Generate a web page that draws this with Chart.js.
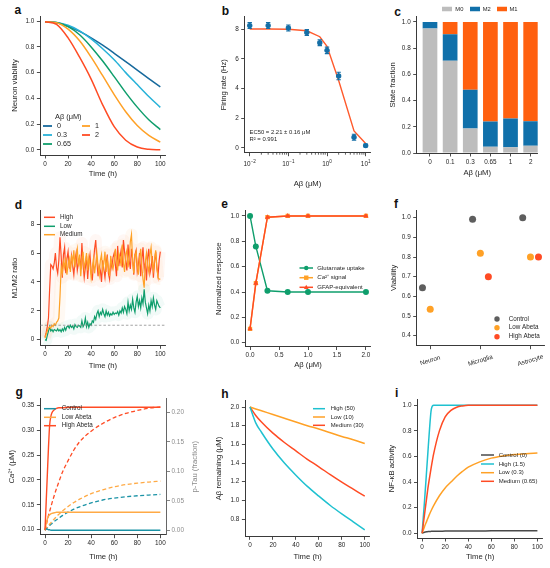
<!DOCTYPE html>
<html>
<head>
<meta charset="utf-8">
<title>Abeta model panels</title>
<script src="https://cdn.jsdelivr.net/npm/chart.js@4.4.1/dist/chart.umd.min.js"></script>
<style>
  html, body { margin: 0; padding: 0; background: #fff; }
  body { width: 550px; height: 568px; position: relative; overflow: hidden; font-family: 'Liberation Sans', Arial, sans-serif; }
  canvas { position: absolute; }
  .tag { position: absolute; font-weight: bold; font-size: 12px; line-height: 12px; color: #111; }
</style>
</head>
<body>
<div class="tag" style="left:14.5px;top:4px">a</div>
<div class="tag" style="left:221.8px;top:5px">b</div>
<div class="tag" style="left:394.2px;top:5.7px">c</div>
<div class="tag" style="left:14.8px;top:199px">d</div>
<div class="tag" style="left:221.2px;top:198px">e</div>
<div class="tag" style="left:394px;top:198px">f</div>
<div class="tag" style="left:15.5px;top:385.5px">g</div>
<div class="tag" style="left:221.2px;top:388px">h</div>
<div class="tag" style="left:395px;top:387px">i</div>
<script>
// ---- a: neuron viability over time, per Abeta dose
const timeA = [0, 10, 20, 30, 40, 50, 60, 70, 80, 90, 100];
const doseLabelsA = ['0', '0.3', '0.65', '1', '2'];
const viab0   = [0.995, 0.988, 0.960, 0.920, 0.870, 0.813, 0.750, 0.685, 0.620, 0.554, 0.490];
const viab03  = [0.995, 0.990, 0.968, 0.925, 0.862, 0.786, 0.700, 0.600, 0.507, 0.415, 0.330];
const viab065 = [0.995, 0.990, 0.957, 0.894, 0.800, 0.690, 0.569, 0.445, 0.332, 0.234, 0.157];
const viab1   = [0.995, 0.987, 0.938, 0.847, 0.720, 0.576, 0.429, 0.296, 0.189, 0.112, 0.060];
const viab2   = [0.995, 0.975, 0.870, 0.720, 0.550, 0.350, 0.180, 0.075, 0.022, 0.004, 0.000];

// ---- b: firing rate dose response
const dosesB = [0.01, 0.03, 0.1, 0.3, 0.65, 1, 2, 5, 10];
const firingMean = [8.25, 8.25, 8.09, 7.78, 7.10, 6.58, 4.85, 0.72, 0.16];
const firingErr  = [0.20, 0.20, 0.20, 0.20, 0.20, 0.22, 0.25, 0.20, 0.10];
const firingFit  = [8.02, 8.02, 8.00, 7.90, 7.50, 6.85, 4.55, 1.15, 0.30];
const logTicksB = [0.01, 0.1, 1, 10];
const logBaseB = '10';
const logExpB = ['\u22122', '\u22121', '0', '1'];
const fitNotes = ['EC50 = 2.21 \u00B1 0.16 \u03BCM', 'R\u00B2 = 0.991'];

// ---- c: microglia state fractions
const doseCatsC = ['0', '0.1', '0.3', '0.65', '1', '2'];
const stateNames = ['M0', 'M2', 'M1'];
const fracM0 = [0.950, 0.704, 0.186, 0.048, 0.043, 0.056];
const fracM2 = [0.050, 0.202, 0.296, 0.192, 0.220, 0.186];
const fracM1 = [0.000, 0.094, 0.518, 0.760, 0.737, 0.758];

// ---- d: M1/M2 ratio time courses (hourly)
const ratioNames = ['High', 'Low', 'Medium'];
const ratioHigh = [0.2,0.5,0.9,1.5,3.5,5.2,5.1,4.9,5.3,6.0,5.0,4.6,5.5,7.1,5.8,4.3,5.9,6.4,4.6,5.6,
  6.1,5.0,4.9,5.8,5.1,4.5,5.5,6.0,4.8,5.3,5.6,4.9,6.7,5.2,4.3,5.0,5.8,4.2,5.4,5.9,
  4.7,4.1,5.3,6.3,6.9,5.4,4.4,5.1,4.8,4.0,5.5,4.9,4.3,5.2,5.9,4.6,4.2,5.5,5.0,5.7,
  6.0,5.2,4.4,6.5,5.1,5.7,6.2,5.0,6.9,6.1,5.4,4.8,6.6,5.5,4.9,6.3,5.6,4.5,5.9,6.2,
  4.7,5.2,6.0,4.4,5.6,6.4,4.9,5.3,4.1,5.7,6.3,4.6,5.0,5.8,4.3,5.4,6.1,5.0,4.4,5.5,6.1];
const ratioLow = [0.0,-0.05,0.3,0.6,0.9,0.6,0.7,0.55,0.7,0.65,0.6,0.75,0.6,0.7,0.55,0.75,0.6,0.85,0.65,0.9,
  0.95,0.8,1.0,0.85,0.95,0.75,1.05,0.9,0.85,1.0,0.95,0.85,1.3,0.9,1.05,1.5,0.9,1.2,0.85,1.1,
  1.0,1.3,1.2,1.6,1.4,1.8,2.0,1.6,1.9,1.75,2.1,1.8,1.6,2.0,1.7,1.9,1.65,1.8,1.7,1.9,
  1.75,1.85,1.8,1.95,1.7,2.0,1.85,2.2,1.9,2.3,2.1,1.8,2.6,2.0,2.4,2.1,2.8,2.2,1.9,2.6,
  3.0,2.3,2.7,2.2,2.9,2.5,3.5,2.6,2.2,1.8,2.4,2.0,2.7,2.3,2.9,2.4,2.1,2.7,2.5,2.3,2.2];
const ratioMed = [0.1,0.4,0.6,0.8,0.9,0.8,1.0,0.9,1.1,1.0,1.2,1.3,1.5,3.0,5.0,4.6,5.4,5.0,5.7,4.5,
  5.2,5.6,4.7,5.9,5.3,6.2,5.0,5.8,6.3,5.1,5.9,4.4,5.5,6.1,4.9,5.4,6.0,4.8,5.7,5.2,
  4.3,5.0,5.6,4.6,5.3,6.0,5.1,4.5,5.5,5.9,4.8,5.3,6.1,4.7,5.6,5.0,4.4,5.8,5.2,4.9,
  5.4,6.3,5.5,4.8,6.0,5.7,5.1,6.6,5.3,4.7,5.9,6.2,5.0,5.6,6.8,7.3,5.4,4.6,5.8,6.1,
  5.2,4.5,5.7,6.3,5.0,4.2,3.6,5.4,6.0,5.1,4.7,5.9,6.4,5.3,4.8,5.6,6.2,5.0,4.3,4.2,4.2];
const ratioThreshold = 1;

// ---- e: astrocyte responses
const dosesE = [0, 0.1, 0.3, 0.65, 1, 2];
const glutUptake = [1.00, 0.76, 0.41, 0.40, 0.40, 0.40];
const caSignal   = [0.11, 0.47, 0.99, 1.00, 1.00, 1.00];
const gfapEquiv  = [0.11, 0.47, 0.99, 1.00, 1.00, 1.00];

// ---- f: viability by cell type
const cellTypes = ['Neuron', 'Microglia', 'Astrocyte'];
const condNames = ['Control', 'Low Abeta', 'High Abeta'];
const viabControl = [0.644, 0.992, 1.000];
const viabLow     = [0.534, 0.819, 0.800];
const viabHigh    = [null, 0.700, 0.800];

// ---- g: calcium (solid, left) and p-Tau (dashed, right)
const timeG = [0, 1, 2, 3, 4, 5, 6, 8, 10, 12, 15, 20, 25, 30, 40, 50, 60, 70, 80, 90, 100];
const caControl = [0.100,0.102,0.101,0.100,0.100,0.099,0.099,0.099,0.099,0.099,0.099,0.099,0.099,0.099,0.099,0.099,0.099,0.099,0.099,0.099,0.099];
const caLow     = [0.100,0.112,0.121,0.127,0.130,0.132,0.133,0.134,0.135,0.135,0.135,0.135,0.135,0.135,0.135,0.135,0.135,0.135,0.135,0.135,0.135];
const caHigh    = [0.100,0.155,0.210,0.265,0.310,0.327,0.335,0.341,0.344,0.345,0.345,0.346,0.346,0.346,0.346,0.346,0.346,0.346,0.346,0.346,0.346];
const tauControl = [0,0.0021,0.0041,0.0060,0.0079,0.0097,0.0114,0.0148,0.0179,0.0207,0.0248,0.0307,0.0357,0.0398,0.0464,0.0513,0.0545,0.0568,0.0585,0.0597,0.0607];
const tauLow     = [0,0.0027,0.0053,0.0078,0.0102,0.0126,0.0149,0.0192,0.0233,0.0271,0.0325,0.0404,0.0471,0.0527,0.0621,0.0685,0.0737,0.0774,0.0799,0.0817,0.0832];
const tauHigh    = [0,0.008,0.017,0.025,0.032,0.039,0.046,0.059,0.071,0.082,0.098,0.118,0.136,0.150,0.168,0.181,0.191,0.198,0.203,0.207,0.209];

// ---- h: Abeta clearance
const timeH = [0, 5, 10, 20, 30, 40, 50, 60, 70, 80, 90, 100];
const clearNames = ['High (50)', 'Low (10)', 'Medium (30)'];
const abHigh = [2.00, 1.83, 1.73, 1.55, 1.40, 1.27, 1.15, 1.045, 0.945, 0.855, 0.770, 0.685];
const abLow  = [2.00, 1.98, 1.96, 1.92, 1.88, 1.84, 1.80, 1.765, 1.725, 1.685, 1.650, 1.610];
const abMed  = [2.00, 1.91, 1.84, 1.72, 1.62, 1.53, 1.44, 1.360, 1.275, 1.195, 1.120, 1.045];

// ---- i: NF-kB activity
const timeI = [0, 2, 4, 5, 6, 8, 10, 15, 20, 25, 30, 35, 40, 50, 60, 70, 80, 90, 100];
const nfNames = ['Control (0)', 'High (1.5)', 'Low (0.3)', 'Medium (0.65)'];
const nfControl = [0,0.008,0.012,0.013,0.014,0.015,0.016,0.016,0.017,0.017,0.017,0.018,0.018,0.018,0.019,0.019,0.019,0.020,0.020];
const nfHigh    = [0,0.24,0.50,0.63,0.76,0.97,1.0,1.0,1.0,1.0,1.0,1.0,1.0,1.0,1.0,1.0,1.0,1.0,1.0];
const nfLow     = [0,0.05,0.095,0.118,0.14,0.18,0.216,0.293,0.354,0.40,0.445,0.483,0.516,0.558,0.587,0.604,0.615,0.622,0.627];
const nfMed     = [0,0.14,0.28,0.35,0.41,0.52,0.62,0.80,0.91,0.96,0.985,0.995,1.0,1.0,1.0,1.0,1.0,1.0,1.0];

// ---------------------------------------------------------------
const FAM = "'Liberation Sans', Arial, Helvetica, sans-serif";
const INK = '#262626';
const AXIS_COL = '#3a3a3a';
const TICK_SIZE = 6.4, TITLE_SIZE = 7.7, LEG_SIZE = 6.3;
const TITLE_HALF = TITLE_SIZE * 1.2 / 2;
const RED = '#ff4b24', ORANGE = '#ffa126', GREEN = '#0f9e6c', CYAN = '#1fc1d0';
Chart.defaults.font.family = FAM;

function xy(xs, ys) {
  return xs.map((x, i) => ({ x: x, y: ys[i] })).filter(p => p.y !== null);
}

function axis(pos, min, max, ticks, fmt, title) {
  const horiz = pos === 'bottom';
  return {
    type: 'linear', position: pos, min: min, max: max, offset: false,
    afterBuildTicks: s => { s.ticks = ticks.map(v => ({ value: v })); },
    grid: { drawOnChartArea: false, drawTicks: true, tickLength: 3.5, color: AXIS_COL, lineWidth: 0.9, offset: false },
    border: { display: true, color: AXIS_COL, width: 1 },
    ticks: { color: INK, font: { family: FAM, size: TICK_SIZE }, padding: horiz ? 1.5 : 2.5,
      maxRotation: 0, minRotation: 0, autoSkip: false, callback: v => fmt(v) },
    title: { display: !!title, text: title || '', color: INK, font: { family: FAM, size: TITLE_SIZE }, padding: 0 }
  };
}

function marker(ctx, style, x, y, r, color) {
  ctx.fillStyle = color;
  ctx.beginPath();
  if (style === 'rect') ctx.rect(x - r, y - r, 2 * r, 2 * r);
  else if (style === 'triangle') { ctx.moveTo(x, y - r * 1.2); ctx.lineTo(x + r * 1.05, y + r * 0.75); ctx.lineTo(x - r * 1.05, y + r * 0.75); ctx.closePath(); }
  else ctx.arc(x, y, r, 0, Math.PI * 2);
  ctx.fill();
}

function drawParts(ctx, parts, x, y, size, color, align) {
  const fonts = parts.map(p => (p.i ? 'italic ' : '') + (p.s || size) + 'px ' + FAM);
  const widths = parts.map((p, k) => { ctx.font = fonts[k]; return ctx.measureText(p.t).width; });
  const total = widths.reduce((a, b) => a + b, 0);
  let cx = align === 'center' ? x - total / 2 : x;
  ctx.fillStyle = color; ctx.textBaseline = 'middle'; ctx.textAlign = 'left';
  parts.forEach((p, k) => { ctx.font = fonts[k]; ctx.fillText(p.t, cx, y + (p.dy || 0)); cx += widths[k]; });
}

function drawLegend(ctx, entries, size) {
  entries.forEach(e => {
    ctx.save();
    if (e.box) {
      ctx.fillStyle = e.color;
      ctx.fillRect(e.x0, e.y - e.box / 2, e.x1 - e.x0, e.box);
    } else {
      if (!e.noLine) {
        ctx.strokeStyle = e.color; ctx.lineWidth = e.lw || 1.5;
        ctx.beginPath(); ctx.moveTo(e.x0, e.y); ctx.lineTo(e.x1, e.y); ctx.stroke();
      }
      if (e.marker) marker(ctx, e.marker, (e.x0 + e.x1) / 2, e.y, e.r || 2.5, e.color);
    }
    drawParts(ctx, e.parts || [{ t: e.label }], e.tx, e.y, size, INK, 'left');
    ctx.restore();
  });
}

function makeChart(geo, cfg) {
  const A = geo.area;
  const cl = Math.round(geo.yTitleX - TITLE_HALF);
  const cb = Math.round(geo.xTitleY + TITLE_HALF);
  const ct = geo.top, cr = geo.right;
  const cv = document.createElement('canvas');
  cv.width = cr - cl; cv.height = cb - ct;
  cv.style.left = cl + 'px'; cv.style.top = ct + 'px';
  cv.style.width = (cr - cl) + 'px'; cv.style.height = (cb - ct) + 'px';
  document.body.appendChild(cv);
  const sc = cfg.options.scales;
  sc.x.afterFit = s => { s.height = cb - A.b; };
  sc.y.afterFit = s => { s.width = A.l - cl; };
  let padR = cr - A.r;
  if (sc.y2) { sc.y2.afterFit = s => { s.width = geo.y2w; }; padR -= geo.y2w; }
  cfg.options.layout = { padding: { left: 0, top: A.t - ct, right: padR, bottom: 0 } };
  cfg.options.responsive = false;
  cfg.options.animation = false;
  cfg.options.plugins = { legend: { display: false }, tooltip: { enabled: false } };
  const off = { x: cl, y: ct };
  cfg.plugins = [{
    id: 'panelExtras',
    afterDatasetsDraw(chart) {
      if (!geo.underDraw) return;
      const ctx = chart.ctx; ctx.save(); ctx.translate(-cl, -ct); geo.underDraw(ctx, chart, off); ctx.restore();
    },
    afterDraw(chart) {
      if (!geo.draw) return;
      const ctx = chart.ctx; ctx.save(); ctx.translate(-cl, -ct); geo.draw(ctx, chart, off); ctx.restore();
    }
  }];
  return new Chart(cv, cfg);
}

const timeTicks = [0, 20, 40, 60, 80, 100];
const unitTicks = [0, 0.2, 0.4, 0.6, 0.8, 1.0];
const f1 = v => v.toFixed(1), f2 = v => v.toFixed(2), f0 = v => String(v);

// ---------------- a ----------------
const colorsA = ['#17699c', '#27b2d8', GREEN, ORANGE, RED];
const seriesA = [viab0, viab03, viab065, viab1, viab2];
makeChart({
  area: { l: 40.4, t: 16, r: 165.5, b: 155 }, yTitleX: 15, xTitleY: 174, top: 2, right: 178,
  draw(ctx) {
    drawParts(ctx, [{ t: 'A\u03B2 (\u03BCM)' }], 55, 117, 7.4, INK, 'left');
    const col = [{ x0: 43, x1: 52, tx: 57 }, { x0: 82, x1: 90, tx: 95 }];
    const rows = [126, 135, 144];
    drawLegend(ctx, doseLabelsA.map((lab, k) => {
      const c = col[k < 3 ? 0 : 1];
      return { label: lab, color: colorsA[k], x0: c.x0, x1: c.x1, tx: c.tx, y: rows[k < 3 ? k : k - 3], lw: 1.8 };
    }), 7.2);
  }
}, {
  type: 'line',
  data: { datasets: seriesA.map((arr, k) => ({
    data: xy(timeA, arr), borderColor: colorsA[k], borderWidth: 1.5, pointRadius: 0,
    cubicInterpolationMode: 'monotone', fill: false, order: 4 - k })) },
  options: { scales: {
    x: axis('bottom', -4, 104.5, timeTicks, f0, 'Time (h)'),
    y: axis('left', -0.04, 1.04, unitTicks, f1, 'Neuron viability') } }
});

// ---------------- b ----------------
const BLUE_B = '#156fa6';
const xB = axis('bottom', Math.pow(10, -2.13), Math.pow(10, 1.12), logTicksB, f0, 'A\u03B2 (\u03BCM)');
xB.type = 'logarithmic';
xB.ticks.display = false;
makeChart({
  area: { l: 244.7, t: 16.7, r: 370.3, b: 152.7 }, yTitleX: 224, xTitleY: 184.3, top: 2, right: 382,
  underDraw(ctx, chart, off) {
    const xs = chart.scales.x, ys = chart.scales.y;
    ctx.strokeStyle = BLUE_B; ctx.lineWidth = 1.1;
    dosesB.forEach((d, i) => {
      const x = xs.getPixelForValue(d) + off.x;
      const y1 = ys.getPixelForValue(firingMean[i] + firingErr[i]) + off.y;
      const y2 = ys.getPixelForValue(firingMean[i] - firingErr[i]) + off.y;
      ctx.beginPath();
      ctx.moveTo(x, y1); ctx.lineTo(x, y2);
      ctx.moveTo(x - 2.2, y1); ctx.lineTo(x + 2.2, y1);
      ctx.moveTo(x - 2.2, y2); ctx.lineTo(x + 2.2, y2);
      ctx.stroke();
    });
  },
  draw(ctx, chart, off) {
    const xs = chart.scales.x;
    const yb = chart.chartArea.bottom + off.y;
    ctx.strokeStyle = AXIS_COL; ctx.lineWidth = 0.8;
    for (let d = -2; d <= 0; d++) {
      for (let k = 2; k <= 9; k++) {
        const v = k * Math.pow(10, d);
        const x = xs.getPixelForValue(v) + off.x;
        ctx.beginPath(); ctx.moveTo(x, yb); ctx.lineTo(x, yb + 2); ctx.stroke();
      }
    }
    logTicksB.forEach((v, k) => {
      const x = xs.getPixelForValue(v) + off.x;
      drawParts(ctx, [{ t: logBaseB }, { t: logExpB[k], s: 4.6, dy: -2.6 }], x, yb + 11.5, TICK_SIZE, INK, 'center');
    });
    drawParts(ctx, [{ t: fitNotes[0] }], 249.5, 132.7, 5.9, INK, 'left');
    drawParts(ctx, [{ t: fitNotes[1] }], 249.5, 139.4, 5.9, INK, 'left');
  }
}, {
  type: 'line',
  data: { datasets: [
    { data: xy(dosesB, firingFit), borderColor: '#ff5a2c', borderWidth: 1.4, pointRadius: 0, fill: false, order: 1 },
    { data: xy(dosesB, firingMean), showLine: false, pointRadius: 2.7, pointBackgroundColor: BLUE_B, pointBorderWidth: 0, order: 0 }
  ] },
  options: { scales: {
    x: xB,
    y: axis('left', -0.32, 8.85, [0, 2, 4, 6, 8], f0, 'Firing rate (Hz)') } }
});

// ---------------- c ----------------
const colorsC = ['#bdbdbd', '#1070aa', '#ff600f'];
const fracC = [fracM0, fracM2, fracM1];
makeChart({
  area: { l: 416.7, t: 16.7, r: 537.7, b: 153 }, yTitleX: 392.7, xTitleY: 173.3, top: 2, right: 548,
  draw(ctx) {
    const pos = [{ x0: 442, x1: 452, tx: 455.3 }, { x0: 470, x1: 480, tx: 482.7 }, { x0: 497, x1: 507, tx: 509.5 }];
    drawLegend(ctx, stateNames.map((n, k) => ({ label: n, color: colorsC[k], box: 4.5, x0: pos[k].x0, x1: pos[k].x1, tx: pos[k].tx, y: 9 })), 5.8);
  }
}, {
  type: 'bar',
  data: { datasets: fracC.map((arr, k) => ({
    label: stateNames[k], data: doseCatsC.map((_, i) => ({ x: i, y: arr[i] })),
    backgroundColor: colorsC[k], borderWidth: 0, barPercentage: 0.73, categoryPercentage: 1 })) },
  options: { scales: {
    x: Object.assign(axis('bottom', -0.66, 5.35, [0, 1, 2, 3, 4, 5], v => doseCatsC[v], 'A\u03B2 (\u03BCM)'), { stacked: true }),
    y: Object.assign(axis('left', 0, 1.04, unitTicks, f1, 'State fraction'), { stacked: true }) } }
});

// ---------------- d ----------------
const timeD = ratioHigh.map((_, i) => i);
const colorsD = [RED, GREEN, ORANGE];
const bandsD = ['rgba(255,120,70,0.06)', 'rgba(30,170,130,0.06)', 'rgba(255,175,80,0.07)'];
const seriesD = [ratioHigh, ratioLow, ratioMed];
const drawOrderD = [1, 2, 0];
makeChart({
  area: { l: 40.4, t: 210.7, r: 165.5, b: 345.3 }, yTitleX: 15, xTitleY: 366, top: 196, right: 178,
  underDraw(ctx, chart, off) {
    const y = chart.scales.y.getPixelForValue(ratioThreshold) + off.y;
    ctx.strokeStyle = '#8a8a8a'; ctx.lineWidth = 0.8; ctx.setLineDash([2.5, 2]);
    ctx.beginPath(); ctx.moveTo(chart.chartArea.left + off.x, y); ctx.lineTo(chart.chartArea.right + off.x, y); ctx.stroke();
  },
  draw(ctx) {
    const rows = [217.3, 226.3, 234.7];
    drawLegend(ctx, ratioNames.map((n, k) => ({ label: n, color: colorsD[k], x0: 44, x1: 55, tx: 60, y: rows[k] })), LEG_SIZE);
  }
}, {
  type: 'line',
  data: { datasets: seriesD.map((arr, k) => ({
      data: xy(timeD, arr), borderColor: bandsD[k], borderWidth: 12, pointRadius: 0, fill: false,
      borderJoinStyle: 'round', order: 10 + k }))
    .concat(seriesD.map((arr, k) => ({
      data: xy(timeD, arr), borderColor: colorsD[k], borderWidth: 1.2, pointRadius: 0, fill: false, order: drawOrderD[k] }))) },
  options: { scales: {
    x: axis('bottom', -4, 104.5, timeTicks, f0, 'Time (h)'),
    y: axis('left', -0.39, 8.94, [0, 2, 4, 6, 8], f0, 'M1/M2 ratio') } }
});

// ---------------- e ----------------
const seriesE = [glutUptake, caSignal, gfapEquiv];
const colorsE = [GREEN, ORANGE, RED];
const markersE = ['circle', 'rect', 'triangle'];
const legendE = [[{ t: 'Glutamate uptake' }], [{ t: 'Ca', i: true }, { t: '\u00B2\u207A signal' }], [{ t: 'GFAP-equivalent' }]];
makeChart({
  area: { l: 245.4, t: 210.9, r: 370.6, b: 346.5 }, yTitleX: 219, xTitleY: 365.7, top: 196, right: 382,
  draw(ctx) {
    const rows = [268, 277.7, 287.3];
    drawLegend(ctx, legendE.map((p, k) => ({ parts: p, color: colorsE[k], marker: markersE[k], r: 2.2, x0: 299.5, x1: 313, tx: 317.3, y: rows[k] })), 6.0);
  }
}, {
  type: 'line',
  data: { datasets: seriesE.map((arr, k) => ({
    data: xy(dosesE, arr), borderColor: colorsE[k], backgroundColor: colorsE[k], borderWidth: 1.4,
    pointStyle: markersE[k], pointRadius: 3, pointBorderWidth: 0, pointBackgroundColor: colorsE[k], fill: false, order: 2 - k })) },
  options: { scales: {
    x: axis('bottom', -0.08, 2.08, [0, 0.5, 1, 1.5, 2], f1, 'A\u03B2 (\u03BCM)'),
    y: axis('left', -0.03, 1.04, unitTicks, f1, 'Normalized response') } }
});

// ---------------- f ----------------
const seriesF = [viabControl, viabLow, viabHigh];
const colorsF = ['#5e5e5e', ORANGE, RED];
const dodgeF = [-0.155, 0, 0.16];
const xF = axis('bottom', -0.27, 2.27, [0, 1, 2], f0, '');
xF.ticks.display = false;
makeChart({
  area: { l: 416.7, t: 210, r: 544, b: 345.7 }, yTitleX: 393.3, xTitleY: 367.4, top: 196, right: 549,
  draw(ctx, chart, off) {
    const xs = chart.scales.x;
    cellTypes.forEach((name, k) => {
      const x = xs.getPixelForValue(k) + off.x;
      ctx.save(); ctx.translate(x, 360.5); ctx.rotate(-17 * Math.PI / 180);
      drawParts(ctx, [{ t: name }], 0, 0, TICK_SIZE, INK, 'center');
      ctx.restore();
    });
    const rows = [319, 327.7, 336.7];
    drawLegend(ctx, condNames.map((n, k) => ({ label: n, color: colorsF[k], marker: 'circle', r: 2.7, noLine: true, x0: 497, x1: 497, tx: 508.7, y: rows[k] })), LEG_SIZE);
  }
}, {
  type: 'scatter',
  data: { datasets: seriesF.map((arr, k) => ({
    data: xy(cellTypes.map((_, i) => i + dodgeF[k]), arr),
    pointRadius: 3.5, pointBackgroundColor: colorsF[k], pointBorderWidth: 0 })) },
  options: { scales: {
    x: xF,
    y: axis('left', 0.349, 1.039, [0.4, 0.5, 0.6, 0.7, 0.8, 0.9, 1.0], f1, 'Viability') } }
});

// ---------------- g ----------------
const colorsG = ['#1b93a6', '#ffaa45', RED];
const caSeries = [caControl, caLow, caHigh];
const tauSeries = [tauControl, tauLow, tauHigh];
const yG = axis('left', 0.09, 0.3633, [0.10, 0.15, 0.20, 0.25, 0.30, 0.35], f2, '');
yG.title.display = false;
const y2G = axis('right', -0.0075, 0.223, [0, 0.05, 0.10, 0.15, 0.20], f2, '');
y2G.title.display = false;
y2G.ticks.color = '#8c8c8c';
y2G.ticks.padding = 1.5;
y2G.border.color = '#666';
y2G.grid.color = '#777';
makeChart({
  area: { l: 40.4, t: 398.7, r: 166.5, b: 534.7 }, yTitleX: 11.7, xTitleY: 557, top: 384, right: 200, y2w: 24,
  draw(ctx) {
    ctx.save(); ctx.translate(11.7, 466.7); ctx.rotate(-Math.PI / 2);
    drawParts(ctx, [{ t: 'Ca', i: true }, { t: '\u00B2\u207A (\u03BCM)' }], 0, 0, TITLE_SIZE, INK, 'center');
    ctx.restore();
    ctx.save(); ctx.translate(195, 466.7); ctx.rotate(-Math.PI / 2);
    drawParts(ctx, [{ t: 'p-Tau (fraction)' }], 0, 0, TITLE_SIZE, '#8c8c8c', 'center');
    ctx.restore();
    const rows = [408.7, 417.3, 425.7];
    drawLegend(ctx, condNames.map((n, k) => ({ label: n, color: colorsG[k], x0: 44, x1: 56, tx: 61.7, y: rows[k] })), LEG_SIZE);
  }
}, {
  type: 'line',
  data: { datasets: caSeries.map((arr, k) => ({
      data: xy(timeG, arr), borderColor: colorsG[k], borderWidth: 1.4, pointRadius: 0, fill: false,
      cubicInterpolationMode: 'monotone', yAxisID: 'y', order: 2 - k }))
    .concat(tauSeries.map((arr, k) => ({
      data: xy(timeG, arr), borderColor: colorsG[k], borderWidth: 1.3, borderDash: [4, 2.5], pointRadius: 0, fill: false,
      cubicInterpolationMode: 'monotone', yAxisID: 'y2', order: 5 - k }))) },
  options: { scales: {
    x: axis('bottom', -4, 105.3, timeTicks, f0, 'Time (h)'),
    y: yG, y2: y2G } }
});

// ---------------- h ----------------
const colorsH = [CYAN, ORANGE, RED];
const seriesH = [abHigh, abLow, abMed];
makeChart({
  area: { l: 245.4, t: 400.7, r: 369.9, b: 536.3 }, yTitleX: 219, xTitleY: 557, top: 384, right: 382,
  draw(ctx) {
    const rows = [408.7, 417, 425.3];
    drawLegend(ctx, clearNames.map((n, k) => ({ label: n, color: colorsH[k], x0: 313, x1: 325, tx: 330.7, y: rows[k] })), 5.9);
  }
}, {
  type: 'line',
  data: { datasets: seriesH.map((arr, k) => ({
    data: xy(timeH, arr), borderColor: colorsH[k], borderWidth: 1.5, pointRadius: 0, fill: false,
    cubicInterpolationMode: 'monotone' })) },
  options: { scales: {
    x: axis('bottom', -4, 104.5, timeTicks, f0, 'Time (h)'),
    y: axis('left', 0.615, 2.068, [0.8, 1.0, 1.2, 1.4, 1.6, 1.8, 2.0], f1, 'A\u03B2 remaining (\u03BCM)') } }
});

// ---------------- i ----------------
const colorsI = ['#4a4a4a', CYAN, ORANGE, RED];
const seriesI = [nfControl, nfHigh, nfLow, nfMed];
makeChart({
  area: { l: 417.5, t: 399, r: 542.6, b: 538 }, yTitleX: 392, xTitleY: 557, top: 384, right: 550,
  draw(ctx) {
    const rows = [455, 464, 472.7, 481.3];
    drawLegend(ctx, nfNames.map((n, k) => ({ label: n, color: colorsI[k], x0: 481, x1: 494, tx: 498.7, y: rows[k] })), 6.0);
  }
}, {
  type: 'line',
  data: { datasets: seriesI.map((arr, k) => ({
    data: xy(timeI, arr), borderColor: colorsI[k], borderWidth: 1.5, pointRadius: 0, fill: false,
    cubicInterpolationMode: 'monotone', order: 3 - k })) },
  options: { scales: {
    x: axis('bottom', -4, 104.5, timeTicks, f0, 'Time (h)'),
    y: axis('left', -0.037, 1.049, unitTicks, f1, 'NF-\u03BAB activity') } }
});
</script>
</body>
</html>
